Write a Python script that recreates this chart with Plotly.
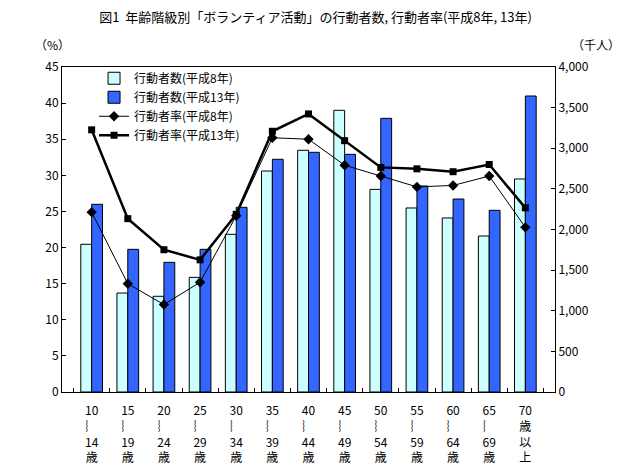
import plotly.graph_objects as go

categories = ["10<br>︴<br>14<br>歳", "15<br>︴<br>19<br>歳", "20<br>︴<br>24<br>歳", "25<br>︴<br>29<br>歳",
              "30<br>︴<br>34<br>歳", "35<br>︴<br>39<br>歳", "40<br>︴<br>44<br>歳", "45<br>︴<br>49<br>歳",
              "50<br>︴<br>54<br>歳", "55<br>︴<br>59<br>歳", "60<br>︴<br>64<br>歳", "65<br>︴<br>69<br>歳",
              "70<br>歳<br>以<br>上"]
count_h8 = [1818, 1218, 1178, 1411, 1941, 2720, 2975, 3467, 2494, 2265, 2142, 1920, 2622]
count_h13 = [2310, 1756, 1596, 1756, 2273, 2864, 2950, 2925, 3368, 2535, 2375, 2236, 3643]
rate_h8 = [24.9, 15.0, 12.1, 15.2, 24.4, 35.2, 35.0, 31.4, 29.9, 28.4, 28.6, 29.9, 22.8]
rate_h13 = [36.3, 24.0, 19.7, 18.3, 24.6, 36.1, 38.5, 34.8, 31.1, 30.9, 30.5, 31.5, 25.5]

FONT = "Noto Sans CJK JP"

fig = go.Figure()
fig.add_trace(go.Bar(x=categories, y=count_h8, name="行動者数(平成8年)",
                     marker=dict(color="#CCFFFF", line=dict(color="black", width=1)), yaxis="y"))
fig.add_trace(go.Bar(x=categories, y=count_h13, name="行動者数(平成13年)",
                     marker=dict(color="#3366FF", line=dict(color="black", width=1)), yaxis="y"))
fig.add_trace(go.Scatter(x=categories, y=rate_h8, name="行動者率(平成8年)", mode="lines+markers",
                         line=dict(color="black", width=1),
                         marker=dict(symbol="diamond", size=8, color="black"), yaxis="y2"))
fig.add_trace(go.Scatter(x=categories, y=rate_h13, name="行動者率(平成13年)", mode="lines+markers",
                         line=dict(color="black", width=2.5),
                         marker=dict(symbol="square", size=7, color="black"), yaxis="y2"))

fig.update_layout(
    width=631, height=469,
    margin=dict(l=62, r=76, t=67, b=77),
    plot_bgcolor="white", paper_bgcolor="white",
    font=dict(family=FONT, size=12, color="black"),
    title=dict(text="図1  年齢階級別「ボランティア活動」の行動者数, 行動者率(平成8年, 13年)",
               x=0.5, xanchor="center", y=1 - 17 / 469, yanchor="middle",
               font=dict(family=FONT, size=13, color="black")),
    barmode="group", bargap=0.4, bargroupgap=0,
    showlegend=True,
    legend=dict(x=0.065, y=1.01, xanchor="left", yanchor="top", bgcolor="rgba(255,255,255,0)",
                font=dict(family=FONT, size=12), tracegroupgap=0, itemwidth=30),
    xaxis=dict(showline=True, linecolor="black", linewidth=1, mirror=True,
               ticks="inside", tickson="boundaries", ticklen=4, tickcolor="black",
               ticklabelstandoff=8, automargin=False,
               tickfont=dict(family=FONT, size=12), showgrid=False),
    yaxis=dict(side="right", range=[0, 4000], dtick=500, tickformat=",",
               showline=True, linecolor="black", linewidth=1, automargin=False,
               ticks="inside", ticklen=4, tickcolor="black", showgrid=False, zeroline=False,
               tickfont=dict(family=FONT, size=12)),
    yaxis2=dict(side="left", overlaying="y", range=[0, 45], dtick=5,
                showline=True, linecolor="black", linewidth=1, automargin=False,
                ticks="inside", ticklen=4, tickcolor="black", showgrid=False, zeroline=False,
                tickfont=dict(family=FONT, size=12)),
    annotations=[
        dict(text="（%）", xref="paper", yref="paper", x=-0.02, y=1 + 22 / 325, xanchor="center",
             yanchor="middle", showarrow=False, font=dict(family=FONT, size=12)),
        dict(text="（千人）", xref="paper", yref="paper", x=1 + 534 / 493 - 1, y=1 + 22 / 325, xanchor="center",
             yanchor="middle", showarrow=False, font=dict(family=FONT, size=12)),
    ],
)

fig.write_html("out.html")
